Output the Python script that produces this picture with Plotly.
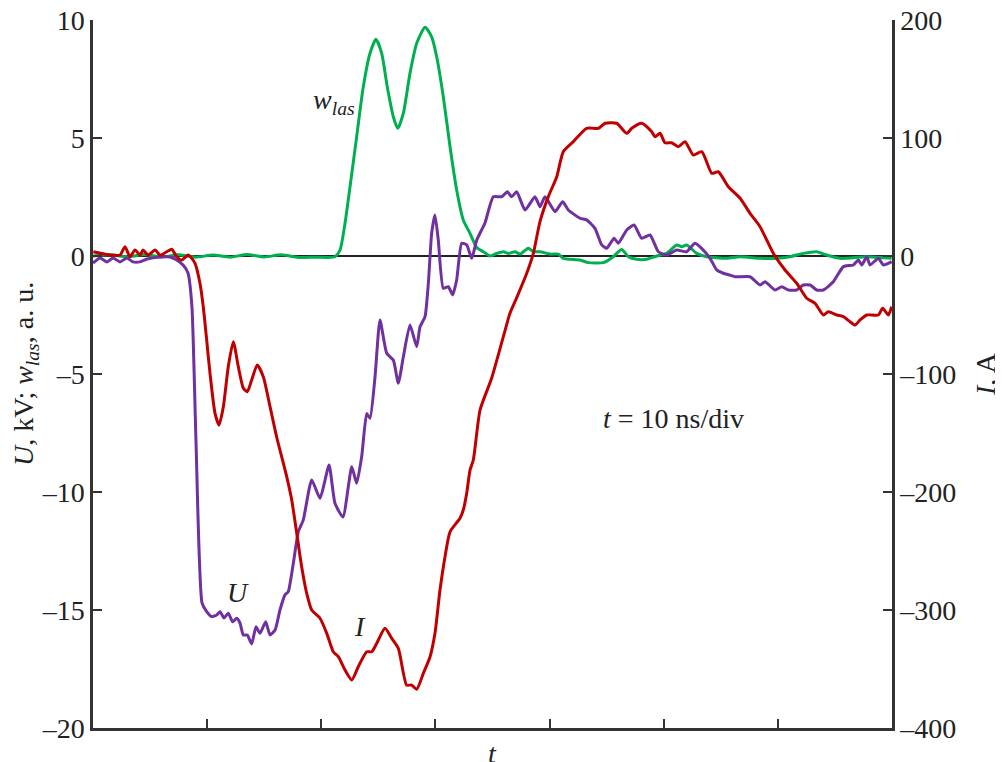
import plotly.graph_objects as go

# ---- data (t in ns, U in kV, w_las in a.u., I in A) ----
t_U = [0, 0.61, 1.23, 1.75, 2.37, 2.98, 3.50, 4.12, 4.73, 5.87, 6.75, 7.18, 7.89, 8.32, 8.67, 9.02,
       9.55, 9.96, 10.40, 10.84, 11.13, 11.48, 11.85, 12.24, 12.59, 12.88, 13.17, 13.52, 13.90, 14.28,
       14.63, 15.13, 15.51, 15.95, 16.38, 16.82, 17.11, 17.55, 17.99, 18.42, 19.16, 19.89, 20.68, 21.20,
       21.90, 22.67, 23.10, 23.54, 23.98, 24.27, 24.71, 25.14, 25.73, 26.31, 26.75, 27.19, 27.77, 28.36,
       28.65, 29.09, 29.38, 29.67, 29.96, 30.25, 30.69, 31.13, 31.51, 31.86, 32.30, 32.74, 33.18, 33.62,
       34.34, 35.07, 35.81, 36.30, 36.68, 37.12, 37.85, 38.72, 39.16, 39.60, 40.48, 41.15, 41.64, 42.67,
       43.25, 43.98, 44.57, 45.01, 45.65, 46.02, 46.76, 47.40, 48.07, 48.80, 49.53, 50.26, 51.14, 52.01,
       52.74, 53.47, 54.06, 54.64, 55.22, 55.81, 56.25, 57.56, 58.44, 58.88, 59.75, 60.34, 60.92, 61.65,
       62.23, 62.82, 63.40, 63.98, 64.86, 65.74, 66.61, 67.05, 67.35, 67.79, 68.07, 68.80, 69.24, 69.97]
U = [-0.30, -0.08, -0.25, -0.08, -0.25, -0.08, -0.25, -0.25, -0.13, -0.04, -0.04, -0.13, -0.38, -0.72, -2.16, -7.80,
     -14.70, -15.07, -15.28, -15.21, -15.07, -15.34, -15.14, -15.50, -15.35, -15.56, -16.06, -16.06, -16.44, -15.71,
     -15.99, -15.50, -16.06, -15.85, -15.00, -14.36, -14.22, -13.02, -11.68, -11.19, -9.49, -10.27, -8.86, -10.48,
     -11.06, -8.93, -9.63, -8.50, -6.67, -6.88, -5.11, -2.71, -4.12, -4.41, -5.39, -4.27, -2.92, -3.84,
     -3.00, -2.57, -1.16, 0.96, 1.74, 0.68, -1.37, -1.30, -1.65, -1.02, 0.54, 0.47, -0.10, 0.68,
     1.40, 2.51, 2.51, 2.72, 2.51, 2.72, 1.95, 2.51, 2.09, 2.51, 1.88, 2.30, 1.95, 1.60,
     1.53, 1.17, 0.47, 0.33, 0.75, 0.54, 1.10, 1.31, 0.75, 0.89, 0.18, 0.04, 0.25, 0.18,
     0.54, 0.25, -0.10, -0.59, -0.73, -0.81, -0.88, -0.88, -1.23, -1.09, -1.44, -1.30, -1.44, -1.44,
     -1.23, -1.23, -1.44, -1.44, -1.09, -0.45, -0.38, -0.17, -0.38, -0.03, -0.38, -0.10, -0.38, -0.24]

t_I = [0.03, 1.49, 2.37, 2.80, 3.24, 3.68, 4.12, 4.38, 4.82, 5.43, 5.87, 6.46, 6.90, 7.33, 7.77, 8.35,
       8.94, 9.37, 9.66, 9.96, 10.25, 10.69, 11.04, 11.42, 11.85, 12.29, 12.73, 13.17, 13.52, 13.90,
       14.39, 14.92, 15.51, 16.09, 16.97, 17.41, 17.85, 18.28, 18.72, 19.16, 19.89, 20.48, 21.05, 21.49,
       22.08, 22.67, 23.24, 23.98, 24.42, 24.86, 25.58, 26.17, 26.75, 27.48, 27.92, 28.36, 28.94, 29.53,
       29.96, 30.40, 30.84, 31.28, 32.15, 32.44, 32.74, 33.03, 33.32, 33.91, 34.93, 35.95, 36.53, 37.15,
       38.00, 38.58, 39.16, 39.89, 40.63, 41.20, 42.08, 43.25, 44.27, 44.86, 45.88, 46.76, 47.20, 48.07,
       48.95, 49.24, 49.68, 50.11, 50.70, 51.28, 51.87, 52.59, 53.33, 54.21, 54.78, 55.66, 56.69, 57.56,
       58.44, 59.02, 59.60, 60.63, 61.65, 62.53, 63.26, 63.98, 64.42, 65.16, 65.74, 66.32, 66.76, 67.20,
       67.79, 68.80, 69.18, 69.68, 69.97]
I = [3.6, 0.8, 0.8, 7.9, -0.6, 5.1, 0.8, 5.1, 0.8, 5.1, 0.8, 3.6, 5.7, -0.6, -3.4, 0.8,
     -6.2, -23.1, -43.0, -71.2, -99.4, -133.3, -143.2, -127.7, -93.8, -72.6, -93.8, -112.1, -115.0, -105.1,
     -92.4, -102.3, -127.7, -153.4, -187.0, -206.8, -235.0, -263.3, -285.8, -300.0, -307.0, -319.8, -335.4, -339.6,
     -350.9, -359.3, -348.1, -335.4, -335.4, -328.2, -315.5, -324.0, -332.5, -363.6, -363.6, -367.2, -353.7, -339.6,
     -319.8, -283.1, -254.8, -233.7, -222.3, -215.3, -201.1, -181.4, -172.9, -130.5, -103.4, -68.4, -48.6, -34.7,
     -14.7, 2.3, 29.1, 50.3, 67.2, 88.4, 96.9, 108.2, 108.2, 112.5, 112.5, 104.0, 108.2, 112.5,
     105.3, 101.1, 104.0, 96.0, 96.0, 92.6, 96.9, 85.6, 88.4, 70.1, 71.4, 58.7, 48.9, 36.2,
     24.8, 13.6, 2.3, -11.9, -23.1, -35.8, -40.1, -50.0, -47.2, -50.0, -51.4, -55.7, -58.5, -54.2,
     -50.0, -50.0, -44.3, -50.0, -43.0]

t_w = [0, 1.5, 3.0, 4.5, 6.0, 7.5, 9.0, 10.5, 12.0, 13.5, 15.0, 16.5, 18.0, 19.5, 20.5, 21.20,
       21.64, 22.08, 22.52, 23.10, 23.68, 24.27, 24.79, 25.29, 25.78, 26.31, 26.70, 27.19, 27.77, 28.36,
       29.09, 29.67, 30.11, 30.69, 31.28, 31.86, 32.44, 33.03, 33.62, 34.19, 34.78, 35.37, 35.95, 36.39,
       36.97, 37.41, 38.14, 38.58, 39.16, 40.04, 40.77, 41.20, 42.67, 43.39, 44.71, 45.58, 46.32, 46.90,
       47.63, 48.51, 49.39, 50.26, 51.14, 51.58, 52.01, 52.89, 53.77, 55.52, 56.69, 58.44, 59.90, 61.07,
       62.23, 63.40, 64.28, 65.45, 67.79, 69.97]
w_las = [0.0, 0.05, -0.03, 0.06, -0.04, 0.05, -0.05, 0.04, -0.05, 0.06, -0.04, 0.05, -0.06, -0.05, -0.06, -0.03,
         0.25, 1.39, 2.94, 5.06, 7.17, 8.59, 9.18, 8.59, 7.17, 5.90, 5.41, 6.05, 7.74, 9.01,
         9.69, 9.29, 8.44, 6.75, 4.63, 2.80, 1.53, 0.96, 0.36, 0.18, 0.0, 0.11, 0.18, 0.11,
         0.18, 0.08, 0.33, 0.18, 0.18, 0.08, 0.08, -0.10, -0.17, -0.28, -0.28, -0.03, 0.28, -0.03,
         -0.14, -0.14, 0.0, 0.11, 0.47, 0.39, 0.47, 0.11, -0.03, -0.10, -0.03, -0.10, -0.10, -0.03,
         0.11, 0.18, 0.04, -0.10, -0.03, -0.10]

x_ticks = [10, 20, 30, 40, 50, 60]
y_left_ticks = [-20, -15, -10, -5, 0, 5, 10]
y_right_ticks = [-400, -300, -200, -100, 0, 100, 200]


def lbl(v):
    return ("\u2013" + str(-v)) if v < 0 else str(v)


FONT = "Liberation Serif"
FS = 28
TXT = "#222222"
AX = "#333333"

fig = go.Figure()
fig.add_trace(go.Scatter(x=t_w, y=w_las, mode="lines", line=dict(color="#00B050", width=3, shape="spline", smoothing=0.6),
                         showlegend=False, hoverinfo="skip"))
fig.add_trace(go.Scatter(x=t_U, y=U, mode="lines", line=dict(color="#7030A0", width=3, shape="spline", smoothing=0.5),
                         showlegend=False, hoverinfo="skip"))
fig.add_trace(go.Scatter(x=t_I, y=I, mode="lines", yaxis="y2",
                         line=dict(color="#C00000", width=3, shape="spline", smoothing=0.6),
                         showlegend=False, hoverinfo="skip"))

fig.update_layout(
    width=1003, height=762,
    margin=dict(l=85, r=119, t=12, b=42, autoexpand=False),
    paper_bgcolor="white", plot_bgcolor="white",
    font=dict(family=FONT, size=FS, color=TXT),
    xaxis=dict(range=[0, 70], tickvals=x_ticks, showticklabels=False, ticks="inside", ticklen=9,
               tickwidth=2, tickcolor=AX, showline=True, linecolor=AX, linewidth=2.5, showgrid=False,
               zeroline=False, automargin=False),
    yaxis=dict(range=[-20, 10], tickvals=y_left_ticks, ticktext=[lbl(v) for v in y_left_ticks],
               ticks="inside", ticklen=9, tickwidth=2, tickcolor=AX, ticklabeloverflow="allow",
               showline=True, linecolor=AX, linewidth=2.5, showgrid=False, automargin=False,
               zeroline=True, zerolinecolor="#222222", zerolinewidth=1.5,
               tickfont=dict(family=FONT, size=FS, color=TXT)),
    yaxis2=dict(range=[-400, 200], tickvals=y_right_ticks, ticktext=[lbl(v) for v in y_right_ticks],
                overlaying="y", side="right", ticks="inside", ticklen=9, ticklabeloverflow="allow",
                tickwidth=2, tickcolor=AX, showline=True, linecolor=AX, linewidth=2.5, showgrid=False,
                zeroline=False, automargin=False, tickfont=dict(family=FONT, size=FS, color=TXT)),
)

# axis titles
fig.add_annotation(x=0, y=0.5, xref="paper", yref="paper", xshift=-68, textangle=-90,
                   xanchor="center", yanchor="middle",
                   text="<i>U</i>, kV; <i>w</i><sub><i>las</i></sub>, a. u.",
                   showarrow=False, font=dict(family=FONT, size=FS, color=TXT))
fig.add_annotation(x=1, y=0.5, xref="paper", yref="paper", xshift=93, textangle=-90,
                   xanchor="center", yanchor="middle",
                   text="<i>I</i>, A", showarrow=False, font=dict(family=FONT, size=FS, color=TXT))
fig.add_annotation(x=0.5, y=0, xref="paper", yref="paper", yshift=-25,
                   xanchor="center", yanchor="middle",
                   text="<i>t</i>", showarrow=False, font=dict(family=FONT, size=FS, color=TXT))

# in-plot labels
fig.add_annotation(x=21.1, y=6.55, xref="x", yref="y", text="<i>w</i><sub><i>las</i></sub>",
                   showarrow=False, font=dict(family=FONT, size=FS, color=TXT))
fig.add_annotation(x=12.7, y=-14.25, xref="x", yref="y", text="<i>U</i>",
                   showarrow=False, font=dict(family=FONT, size=FS, color=TXT))
fig.add_annotation(x=23.4, y=-15.7, xref="x", yref="y", text="<i>I</i>",
                   showarrow=False, font=dict(family=FONT, size=FS, color=TXT))
fig.add_annotation(x=50.9, y=-6.9, xref="x", yref="y", text="<i>t</i> = 10 ns/div",
                   showarrow=False, font=dict(family=FONT, size=FS, color=TXT))

fig.write_html("out.html")
